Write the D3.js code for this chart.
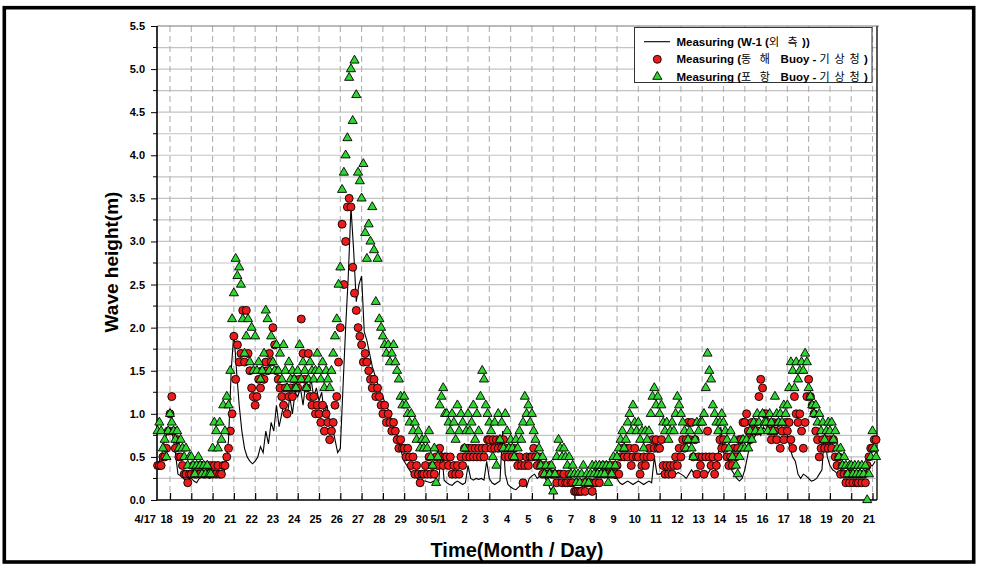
<!DOCTYPE html>
<html><head><meta charset="utf-8">
<script src="https://cdn.jsdelivr.net/npm/d3@7/dist/d3.min.js"></script>
<style>
body{margin:0;background:#fff}
svg{display:block}
text{font-family:"Liberation Sans",Arial,sans-serif}
</style>
</head><body>
<svg id="chart" width="982" height="571"></svg>
<script>
// ---------------- DATA ----------------
// W-1 line: samples every 3 hours, first sample 4/17 09:00
const lineStart = Date.UTC(2000, 3, 17, 9, 0);
const lineStepHours = 3;
// buoys: samples every 2 hours, first sample 4/17 10:00
const buoyStart = Date.UTC(2000, 3, 17, 10, 0);
const buoyStepHours = 2;

// Measuring (W-1 외측) – black line
const w1Values = [
 0.40,0.45,0.55,0.70,0.78,
 0.80,0.75,0.55,0.30,0.28,0.25,0.22,0.25,
 0.25,0.22,0.20,0.25,0.28,0.30,0.27,0.25,
 0.28,0.27,0.30,0.28,0.30,0.40,0.70,1.50,
 1.95,1.50,1.10,0.80,0.60,0.50,0.45,0.42,
 0.45,0.50,0.62,0.55,0.80,0.65,0.90,0.80,
 1.10,0.85,1.00,1.15,0.95,1.20,1.00,1.25,
 1.20,1.30,1.10,1.35,1.25,1.40,1.20,1.30,
 1.15,1.25,1.00,1.10,0.90,0.85,0.70,0.55,
 0.60,1.30,2.00,2.60,3.40,2.90,2.30,2.50,
 2.60,1.95,1.85,1.70,1.55,1.45,1.35,1.25,
 1.20,1.10,1.05,0.95,0.85,0.78,0.65,0.55,
 0.45,0.40,0.35,0.30,0.27,0.25,0.23,0.22,
 0.22,0.21,0.20,0.22,0.20,0.22,0.60,0.23,
 0.20,0.18,0.17,0.20,0.22,0.20,0.18,0.20,
 0.40,0.25,0.23,0.25,0.24,0.25,0.23,0.45,
 0.25,0.20,0.18,0.20,0.22,0.80,0.30,0.18,
 0.15,0.13,0.12,0.15,0.18,0.20,0.15,0.25,
 0.28,0.30,0.25,0.28,0.30,0.25,0.20,0.12,
 0.15,0.20,0.20,0.18,0.20,0.22,0.20,0.20,
 0.22,0.25,0.22,0.20,0.25,0.28,0.30,0.32,
 0.35,0.38,0.40,0.38,0.35,0.30,0.28,0.25,
 0.25,0.20,0.18,0.20,0.22,0.20,0.18,0.20,
 0.22,0.20,0.18,0.20,0.22,0.20,0.50,0.30,
 0.30,0.32,0.35,0.30,0.30,0.28,0.30,0.32,
 0.30,0.28,0.25,0.30,0.35,0.30,0.32,0.30,
 0.30,0.28,0.30,0.35,0.40,0.35,0.50,0.85,
 0.55,0.50,0.45,0.35,0.30,0.25,0.22,0.25,
 0.35,0.50,0.65,0.70,0.75,0.80,0.75,0.85,
 0.80,0.90,0.85,0.75,0.80,0.90,0.85,0.80,
 0.75,0.60,0.50,0.45,0.30,0.25,0.30,0.28,
 0.25,0.22,0.23,0.25,0.30,0.35,0.80,0.50,
 0.40,0.35,0.33,0.30,0.35,0.32,0.30,0.35,
 0.35,0.30,0.32,0.35,0.30,0.33,0.35,0.40,
 0.40,0.45
];

// Measuring (동해 Buoy - 기상청) – red circles (2-hourly)
const donghaeValues = [
 0.4,0.4,0.4,0.5,0.5,0.6,0.8,
 1.0,1.2,0.8,0.6,0.7,0.5,0.5,0.4,0.3,0.3,0.2,0.3,
 0.3,0.4,0.3,0.3,0.4,0.3,0.4,0.3,0.3,0.4,0.3,0.4,
 0.3,0.4,0.3,0.4,0.3,0.3,0.4,0.4,0.5,0.6,0.8,1.0,
 1.9,1.4,1.8,1.6,1.7,2.2,1.6,2.2,1.7,1.5,1.3,1.2,
 1.1,1.2,1.4,1.3,1.5,1.4,1.6,1.5,1.7,1.6,2.0,1.8,
 1.5,1.4,1.3,1.2,1.1,1.3,1.0,1.2,1.3,1.2,1.4,1.3,
 1.3,1.4,2.1,1.7,1.4,1.3,1.7,1.2,1.1,1.2,1.0,1.1,
 1.0,0.9,1.1,0.8,1.0,0.9,0.7,0.8,0.9,1.1,1.2,1.6,
 2.0,3.2,2.5,3.0,3.4,3.5,3.4,2.7,2.4,2.2,2.0,1.9,
 1.8,1.6,1.7,1.6,1.5,1.4,1.3,1.4,1.2,1.3,1.2,1.1,
 1.0,1.1,0.9,1.0,0.9,0.8,0.9,0.8,0.7,0.6,0.7,0.6,
 0.6,0.5,0.6,0.5,0.4,0.5,0.3,0.4,0.3,0.2,0.3,0.3,
 0.4,0.3,0.5,0.3,0.4,0.3,0.5,0.4,0.6,0.5,0.4,0.5,
 0.5,0.4,0.5,0.3,0.4,0.3,0.4,0.3,0.5,0.4,0.6,0.5,
 0.6,0.5,0.6,0.5,0.6,0.5,0.6,0.5,0.6,0.5,0.6,0.7,
 0.7,0.6,0.7,0.6,0.7,0.6,0.7,0.6,0.7,0.5,0.6,0.5,
 0.6,0.5,0.6,0.5,0.4,0.5,0.4,0.2,0.4,0.5,0.4,0.5,
 0.5,0.6,0.5,0.4,0.5,0.4,0.3,0.4,0.3,0.3,0.4,0.3,
 0.3,0.3,0.2,0.3,0.3,0.2,0.3,0.2,0.2,0.3,0.2,0.2,
 0.1,0.1,0.1,0.1,0.1,0.2,0.1,0.2,0.2,0.2,0.1,0.2,
 0.2,0.3,0.2,0.3,0.4,0.3,0.4,0.3,0.4,0.3,0.4,0.3,
 0.4,0.3,0.5,0.6,0.5,0.6,0.5,0.6,0.4,0.5,0.6,0.5,
 0.5,0.3,0.4,0.5,0.4,0.5,0.6,0.5,0.7,0.6,0.7,0.6,
 0.6,0.7,0.4,0.3,0.4,0.3,0.4,0.3,0.4,0.5,0.4,0.6,
 0.5,0.7,0.6,0.7,0.9,0.7,0.9,0.5,0.7,0.3,0.5,0.4,
 0.5,0.3,0.5,0.8,0.5,0.4,0.5,0.3,0.4,0.5,0.7,0.6,
 0.7,0.6,0.5,0.4,0.5,0.4,0.6,0.5,0.6,0.7,0.7,0.9,
 0.9,1.0,0.8,0.7,0.9,0.8,0.9,0.8,1.2,1.4,1.3,1.0,
 1.0,0.9,0.8,0.7,0.9,0.8,0.7,0.9,0.6,0.8,0.7,0.9,
 0.8,0.9,0.7,0.6,1.2,1.0,0.9,1.0,0.8,0.6,0.9,1.2,
 1.4,1.2,1.1,1.0,0.8,0.7,0.5,0.6,0.7,0.6,0.7,0.6,
 0.7,0.6,0.7,0.5,0.4,0.5,0.3,0.4,0.3,0.2,0.3,0.2,
 0.3,0.2,0.3,0.2,0.2,0.3,0.2,0.3,0.2,0.4,0.5,0.6,
 0.6,0.7,0.7
];

// Measuring (포항 Buoy - 기상청) – green triangles (2-hourly)
const pohangValues = [
 0.8,0.9,0.8,0.6,0.7,0.5,0.8,
 1.0,0.9,0.8,0.7,0.8,0.6,0.7,0.6,0.5,0.6,0.4,0.5,
 0.5,0.4,0.3,0.4,0.5,0.4,0.3,0.4,0.3,0.4,0.3,0.3,
 0.6,0.9,0.8,0.6,0.9,0.7,1.1,0.8,1.2,1.1,1.5,2.1,
 2.4,2.8,2.6,2.7,2.5,2.1,1.7,1.9,2.1,1.6,2.0,1.5,
 1.9,1.5,1.6,1.4,1.5,1.7,2.2,2.1,1.5,1.9,1.6,1.5,
 1.8,1.5,1.7,1.4,1.8,1.5,1.3,1.6,1.4,1.5,1.4,1.3,
 1.5,1.8,1.4,1.6,1.5,1.3,1.4,1.6,1.5,1.4,1.5,1.7,
 1.5,1.4,1.6,1.3,1.5,1.4,1.3,1.5,1.7,1.9,2.1,2.5,
 2.7,3.6,3.8,4.0,4.2,4.9,5.0,4.4,5.1,4.7,3.8,3.7,
 3.5,3.9,3.1,2.8,3.2,3.0,3.4,2.9,2.3,2.8,2.1,2.0,
 1.9,1.8,1.7,1.8,1.6,1.7,1.8,1.6,1.5,1.4,1.2,1.1,
 1.2,1.1,1.0,0.9,1.0,0.8,0.9,0.7,0.8,0.6,0.7,0.6,
 0.7,0.6,0.8,0.5,0.4,0.6,0.2,0.5,1.1,1.2,1.3,1.0,
 1.0,0.9,0.8,1.0,0.9,0.7,1.1,0.8,1.0,0.9,0.6,0.8,
 1.0,0.8,0.9,1.1,0.7,1.0,0.8,1.2,1.5,1.4,1.1,1.0,
 0.9,0.8,0.5,0.9,0.4,1.0,0.7,0.9,0.6,1.0,0.8,0.6,
 0.7,0.6,0.5,0.7,0.6,0.8,0.7,0.9,1.2,1.0,1.1,0.9,
 1.0,0.8,0.7,0.5,0.6,0.4,0.5,0.3,0.4,0.2,0.3,0.4,
 0.1,0.3,0.5,0.7,0.6,0.5,0.6,0.5,0.4,0.5,0.3,0.4,
 0.3,0.2,0.3,0.2,0.3,0.4,0.2,0.3,0.2,0.3,0.4,0.3,
 0.4,0.3,0.4,0.3,0.4,0.3,0.4,0.2,0.4,0.3,0.5,0.4,
 0.5,0.6,0.7,0.8,0.6,0.7,0.9,1.0,0.8,1.1,0.9,0.8,
 0.9,0.7,0.8,0.6,0.8,0.7,0.8,1.0,1.2,1.3,1.1,1.2,
 1.0,1.1,0.9,0.8,0.9,0.7,0.8,0.9,0.8,1.0,1.2,1.1,
 1.0,0.9,0.8,0.6,0.7,0.8,0.6,0.5,0.7,0.9,0.8,0.9,
 0.9,1.0,1.3,1.7,1.5,1.4,1.1,1.0,0.9,0.8,0.9,1.0,
 0.9,0.8,0.7,0.6,0.8,0.5,0.7,0.4,0.3,0.5,0.6,0.7,
 0.6,0.7,0.6,0.8,0.7,0.9,0.8,1.0,0.9,0.8,1.0,0.9,
 0.9,0.8,1.0,0.9,0.8,1.2,1.0,0.9,1.0,0.9,1.1,1.0,
 1.1,1.3,1.6,1.5,1.3,1.6,1.4,1.5,1.6,1.5,1.7,1.6,
 1.3,1.2,1.1,1.0,1.1,0.9,1.0,0.8,0.9,0.7,0.8,0.9,
 0.8,0.9,0.7,0.8,0.6,0.5,0.6,0.4,0.5,0.4,0.3,0.4,
 0.4,0.3,0.4,0.3,0.4,0.3,0.4,0.3,0.4,0.0,0.3,0.5,
 0.8,0.6,0.5
];

const yTickValues = [0,0.5,1.0,1.5,2.0,2.5,3.0,3.5,4.0,4.5,5.0,5.5];
const yGridValues = [0.25,0.5,0.75,1.0,1.25,1.5,1.75,2.0,2.25,2.5,2.75,3.0,3.25,3.5,3.75,4.0,4.25,4.5,4.75,5.0,5.25];
// [month, day] of each day label
const xTickDays = [[4,17],[4,18],[4,19],[4,20],[4,21],[4,22],[4,23],[4,24],[4,25],[4,26],[4,27],[4,28],[4,29],[4,30],
 [5,1],[5,2],[5,3],[5,4],[5,5],[5,6],[5,7],[5,8],[5,9],[5,10],[5,11],[5,12],[5,13],[5,14],[5,15],[5,16],[5,17],[5,18],[5,19],[5,20],[5,21]];
const xTickLabels = ["4/17","18","19","20","21","22","23","24","25","26","27","28","29","30",
 "5/1","2","3","4","5","6","7","8","9","10","11","12","13","14","15","16","17","18","19","20","21"];

// ---------------- CHART ----------------
const svg = d3.select("#chart");
const L = 157, R = 877, T = 26, B = 500;

const x = d3.scaleUtc()
  .domain([Date.UTC(2000,3,17,9,20), Date.UTC(2000,4,21,5,4)])
  .range([L, R]);
const y = d3.scaleLinear().domain([0, 5.5]).range([B, T]);

const lineTime = i => new Date(lineStart + i * lineStepHours * 3600000);
const buoyTime = i => new Date(buoyStart + i * buoyStepHours * 3600000);
const dayDate = d => new Date(Date.UTC(2000, d[0]-1, d[1]));

// outer frame
svg.append("rect").attr("x",4.3).attr("y",7.7).attr("width",969.4).attr("height",554.3)
  .attr("fill","none").attr("stroke","#000").attr("stroke-width",3.6);

// horizontal grid
svg.append("g").selectAll("line").data(yGridValues).join("line")
  .attr("x1",L).attr("x2",R).attr("y1",d=>y(d)).attr("y2",d=>y(d))
  .attr("stroke","#c3c3c3").attr("stroke-width",1.2);

// vertical dashed grid
const gridDays = xTickDays.slice(1).map(dayDate);
svg.append("g").selectAll("line").data(gridDays).join("line")
  .attr("x1",d=>x(d)).attr("x2",d=>x(d)).attr("y1",T).attr("y2",B)
  .attr("stroke","#b0b0b0").attr("stroke-width",1.1).attr("stroke-dasharray","6,4");

// plot frame: top and right
svg.append("line").attr("x1",L).attr("x2",R+2).attr("y1",T).attr("y2",T).attr("stroke","#777").attr("stroke-width",1.2);
svg.append("line").attr("x1",R).attr("x2",R).attr("y1",T).attr("y2",B).attr("stroke","#444").attr("stroke-width",1.8);

// y axis
const yAxis = svg.append("g").attr("transform",`translate(${L},0)`)
  .call(d3.axisLeft(y).tickValues(yTickValues).tickFormat(d3.format(".1f")).tickSize(6).tickPadding(6));
yAxis.select(".domain").remove();
yAxis.selectAll("text").attr("font-size",11).attr("font-weight","bold").attr("fill","#000")
  .style("font-family",'"Liberation Sans",Arial,sans-serif');
yAxis.selectAll("line").attr("stroke","#000");
svg.append("g").selectAll("line").data(yGridValues.filter(v=>Math.abs(v*2-Math.round(v*2))>0.01)).join("line")
  .attr("x1",L-4).attr("x2",L).attr("y1",d=>y(d)).attr("y2",d=>y(d)).attr("stroke","#000");

// x axis ticks (inside)
const xAxis = svg.append("g").attr("transform",`translate(0,${B})`)
  .call(d3.axisBottom(x).tickValues(gridDays).tickSize(-7).tickFormat(""));
xAxis.select(".domain").remove();
xAxis.selectAll("line").attr("stroke","#000").attr("stroke-width",1.2);

// x tick labels
svg.append("g").selectAll("text").data(xTickDays).join("text")
  .attr("x",(d,i)=>x(dayDate(d)) + (xTickLabels[i]==="5/1" ? -8.5 : -3.5))
  .attr("y",523).attr("text-anchor","middle")
  .attr("font-size",11).attr("font-weight","bold").text((d,i)=>xTickLabels[i]);

// axis lines
svg.append("line").attr("x1",L).attr("x2",R).attr("y1",B).attr("y2",B).attr("stroke","#000").attr("stroke-width",1.6);
svg.append("line").attr("x1",L).attr("x2",L).attr("y1",T).attr("y2",B).attr("stroke","#000").attr("stroke-width",1.6);

// series: line
const w1 = w1Values.map((v,i)=>({t:lineTime(i), v}));
svg.append("path").datum(w1)
  .attr("d", d3.line().x(d=>x(d.t)).y(d=>y(d.v)))
  .attr("fill","none").attr("stroke","#000").attr("stroke-width",1.1);

// red circles
const dh = donghaeValues.map((v,i)=>({t:buoyTime(i), v}));
svg.append("g").selectAll("circle").data(dh).join("circle")
  .attr("cx",d=>x(d.t)).attr("cy",d=>y(d.v)).attr("r",4)
  .attr("fill","#ec1c1c").attr("stroke","#000").attr("stroke-width",0.9);

// green triangles
const tri = d3.symbol(d3.symbolTriangle, 36);
const ph = pohangValues.map((v,i)=>({t:buoyTime(i), v}));
svg.append("g").selectAll("path").data(ph).join("path")
  .attr("d", tri)
  .attr("transform", d=>`translate(${x(d.t)},${y(d.v)})`)
  .attr("fill","#2fd62f").attr("stroke","#000").attr("stroke-width",0.9);

// legend
const lg = svg.append("g");
lg.append("rect").attr("x",634.5).attr("y",27.5).attr("width",237.5).attr("height",55)
  .attr("fill","#fff").attr("stroke","#333").attr("stroke-width",1);
lg.append("line").attr("x1",644).attr("x2",670).attr("y1",41.7).attr("y2",41.7).attr("stroke","#000").attr("stroke-width",1.1);
lg.append("circle").attr("cx",657.3).attr("cy",59.3).attr("r",4)
  .attr("fill","#ec1c1c").attr("stroke","#000").attr("stroke-width",0.9);
lg.append("path").attr("d",tri).attr("transform","translate(657.3,76.7)")
  .attr("fill","#2fd62f").attr("stroke","#000").attr("stroke-width",0.9);

function legendText(yPos, parts){
  const t = lg.append("text").attr("x",676.5).attr("y",yPos).attr("font-size",11.5)
    .style("white-space","pre");
  parts.forEach(p=>{
    t.append("tspan").text(p[0])
      .attr("font-weight", p[1] ? "normal" : "bold")
      .style("font-family", p[1] ? '"Noto Sans CJK KR",sans-serif' : '"Liberation Sans",Arial,sans-serif')
      .attr("font-size", p[1] ? 11 : 11.5)
      .attr("letter-spacing", p[1] ? 1.2 : 0);
  });
}
legendText(45.8, [["Measuring (W-1 (",0],["외  측",1],[" ))",0]]);
legendText(63.4, [["Measuring (",0],["동  해",1],["   Buoy - ",0],["기 상 청",1],[" )",0]]);
legendText(80.8, [["Measuring (",0],["포  항",1],["   Buoy - ",0],["기 상 청",1],[" )",0]]);

// axis titles
svg.append("text").attr("transform","translate(118,262) rotate(-90)")
  .attr("text-anchor","middle").attr("font-size",19).attr("font-weight","bold").text("Wave height(m)");
svg.append("text").attr("x",517).attr("y",557)
  .attr("text-anchor","middle").attr("font-size",20).attr("font-weight","bold").text("Time(Month / Day)");
</script>
</body></html>
